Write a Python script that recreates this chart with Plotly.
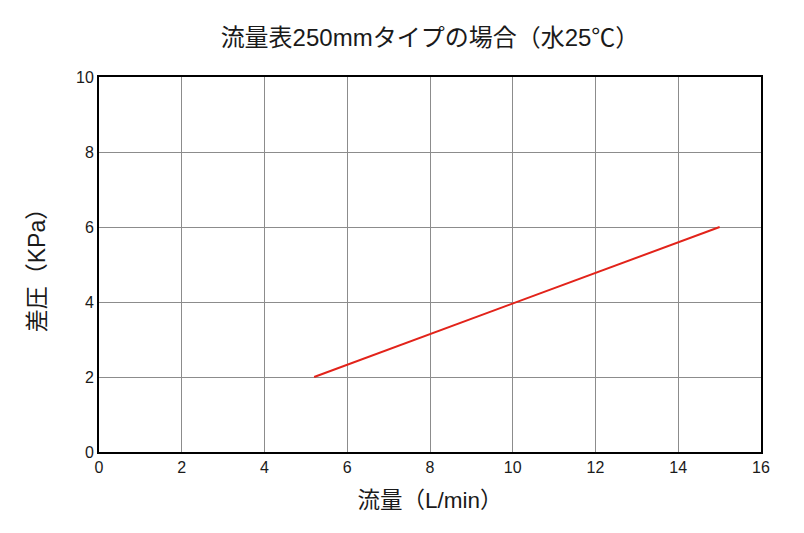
import plotly.graph_objects as go

flow = [5.2, 15.0]
pressure = [2.0, 6.0]

x_ticks = [0, 2, 4, 6, 8, 10, 12, 14, 16]
y_ticks = [0, 2, 4, 6, 8, 10]

FONT = "Liberation Sans, Noto Sans CJK JP"
TEXT = "#1a1a1a"

fig = go.Figure()
fig.add_trace(go.Scatter(
	x = flow,
	y = pressure,
	mode = "lines",
	line = { "color": "#e2231a", "width": 2 },
	showlegend = False,
))

axis_style = dict(
	showline = True,
	mirror = True,
	linecolor = "black",
	linewidth = 2,
	showgrid = True,
	gridcolor = "#8c8c8c",
	gridwidth = 1,
	zeroline = False,
	ticks = "",
	tickfont = { "size": 16, "color": TEXT, "family": FONT },
)

fig.update_xaxes(
	range = [0, 16],
	tickvals = x_ticks,
	title = { "text": "流量（L/min）", "font": { "size": 22.5, "color": TEXT, "family": FONT }, "standoff": 17 },
	**axis_style,
)
fig.update_yaxes(
	range = [0, 10],
	tickvals = y_ticks,
	title = { "text": "差圧（KPa）", "font": { "size": 23, "color": TEXT, "family": FONT }, "standoff": 24 },
	**axis_style,
)

# the page sits 8px in from the window edge, so margins are shifted by that much
fig.update_layout(
	width = 804,
	height = 533,
	margin = { "l": 91, "r": 51, "t": 69, "b": 89 },
	paper_bgcolor = "white",
	plot_bgcolor = "white",
	font = { "family": FONT },
	title = {
		"text": "流量表250mmタイプの場合（水25℃）",
		"x": (91 + 753) / 2 / 804,
		"xanchor": "center",
		"y": 1 - 30 / 533,
		"yanchor": "middle",
		"font": { "size": 24, "color": TEXT, "family": FONT },
	},
)

fig.write_html("out.html")
